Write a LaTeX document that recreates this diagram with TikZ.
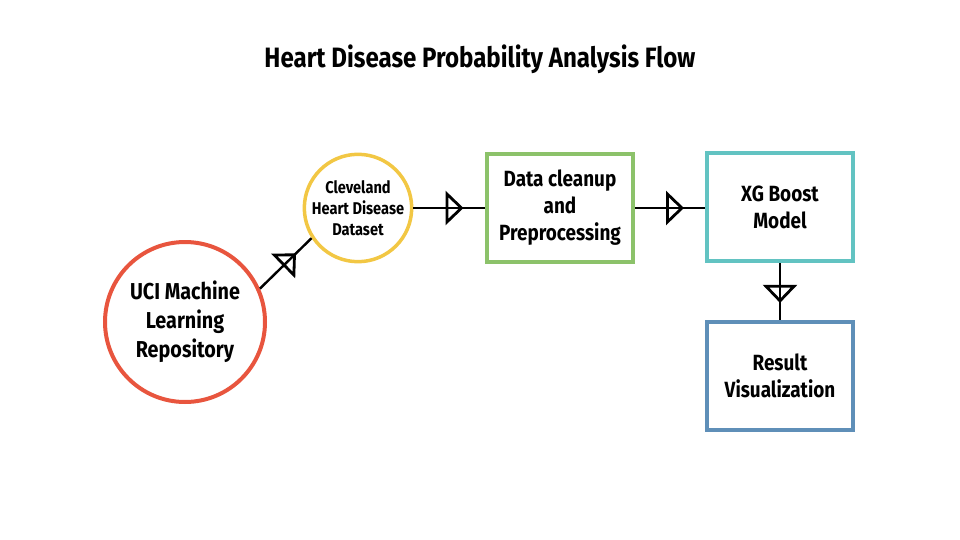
\documentclass[tikz,border=0pt]{standalone}
\usepackage{fontspec}
\setmainfont{Fira Sans}[FakeStretch=0.86]
\usetikzlibrary{arrows.meta, decorations.markings}

\definecolor{uciRed}{HTML}{E8553E}
\definecolor{dataYellow}{HTML}{F2C744}
\definecolor{cleanGreen}{HTML}{8CC26A}
\definecolor{modelTeal}{HTML}{62C3C2}
\definecolor{resultBlue}{HTML}{5F8FB8}

\begin{document}
\begin{tikzpicture}[x=1pt, y=-1pt]

\tikzset{source/.style = {shape=circle, draw, line width=4pt, minimum size=160pt, inner sep=0pt, align=center, font=\bfseries\fontsize{23}{29}\selectfont}}
\tikzset{dataset/.style = {shape=circle, draw, line width=3.5pt, minimum size=104pt, inner sep=0pt, align=center, font=\bfseries\fontsize{17}{21}\selectfont}}
\tikzset{stage/.style = {shape=rectangle, draw, line width=4pt, minimum width=146pt, minimum height=108pt, inner sep=0pt, align=center, font=\bfseries\fontsize{22}{27}\selectfont}}
\tikzset{flow/.style = {line width=2.4pt, decoration={markings, mark=at position 0.7 with {\arrow{Triangle[open, length=18pt, width=34pt, line width=2.8pt]}}}, postaction={decorate}}}

\useasboundingbox (0,0) rectangle (960,540);
%title
\node[font=\bfseries\fontsize{28}{33}\selectfont] (title) at (480,59) {Heart Disease Probability Analysis Flow};
%verticies
\node[source, uciRed, text=black] (uci) at (185,322) {UCI Machine\\Learning\\Repository};
\node[dataset, dataYellow, text=black] (cleveland) at (358,208) {Cleveland\\Heart Disease\\Dataset};
\node[stage, cleanGreen, text=black] (cleanup) at (560,208) {Data cleanup\\and\\Preprocessing};
\node[stage, modelTeal, text=black] (xgb) at (780,207) {XG Boost\\Model};
\node[stage, resultBlue, text=black] (result) at (780,376) {Result\\Visualization};
%edges
\draw [flow] (uci.24) -- (cleveland.213);
\draw [flow] (cleveland.east) -- (cleanup.west);
\draw [flow] (cleanup.east) -- (xgb.west |- cleanup.east);
\draw [flow] (xgb.south) -- (result.north);

\end{tikzpicture}
\end{document}
